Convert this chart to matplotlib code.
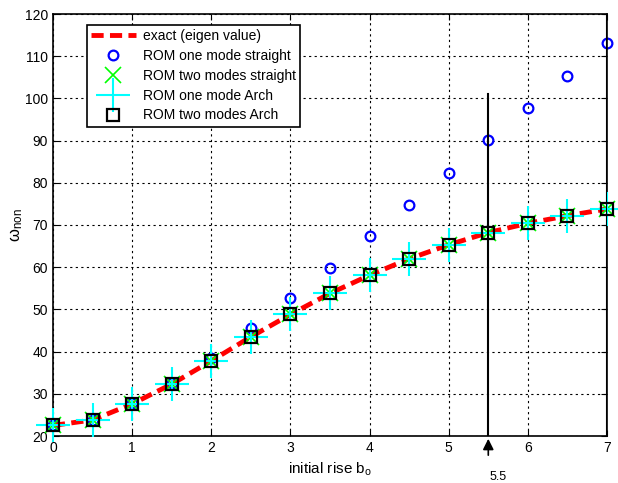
import numpy as np
import matplotlib.pyplot as plt

plt.rcParams['font.family'] = ['Liberation Sans', 'DejaVu Sans']

# datos
b0 = [0, 0.5, 1, 1.5, 2, 2.5, 3, 3.5, 4, 4.5, 5, 5.5, 6, 6.5, 7]
exacto = [22.5, 23.8, 27.6, 32.3, 37.8, 43.5, 48.8, 53.8, 58.1, 62.0, 65.3, 68.2, 70.4, 72.2, 73.8]
rom1_recta = [22.5, 23.9, 27.8, 32.6, 38.6, 45.5, 52.6, 59.7, 67.4, 74.8, 82.4, 90.1, 97.7, 105.4, 113.1]
rom2_recta = [22.5, 23.8, 27.6, 32.3, 37.8, 43.5, 48.8, 53.8, 58.1, 62.0, 65.3, 68.2, 70.4, 72.2, 73.8]
rom1_arco = [22.5, 23.8, 27.6, 32.3, 37.8, 43.5, 48.8, 53.8, 58.1, 62.0, 65.3, 68.2, 70.4, 72.2, 73.8]
rom2_arco = [22.5, 23.8, 27.6, 32.3, 37.8, 43.5, 48.8, 53.8, 58.1, 62.0, 65.3, 68.2, 70.4, 72.2, 73.8]
b_corte = 5.5
w_corte = 101

# %%
fig = plt.figure(figsize=(6.18, 4.83), dpi=100)
ax = fig.add_axes([53/618, 1-436/483, 554/618, 422/483])

ax.plot(b0, exacto, 'r--', linewidth=3.5, dashes=(2.5, 1.3), label='exact (eigen value)', zorder=3)
ax.plot(b0, rom1_recta, 'o', mfc='none', mec='b', mew=1.6, ms=7, linestyle='none',
        label='ROM one mode straight', zorder=2, clip_on=False)
ax.plot(b0, rom2_recta, 'x', color='#00ff00', mew=1.2, ms=11, linestyle='none',
        label='ROM two modes straight', zorder=4, clip_on=False)
ax.plot(b0, rom1_arco, '+', color='cyan', mew=1.5, ms=24, linestyle='none',
        label='ROM one mode Arch', zorder=5, clip_on=False)
ax.plot(b0, rom2_arco, 's', mfc='none', mec='k', mew=1.6, ms=9, linestyle='none',
        label='ROM two modes Arch', zorder=6, clip_on=False)

# lineas verticales
ax.plot([b_corte, b_corte], [20, w_corte], 'k-', linewidth=1.5, zorder=7)
ax.plot([b0[-1], b0[-1]], [20, 120], 'k-', linewidth=1.5, zorder=7)
ax.annotate('', xy=(b_corte, 20), xytext=(b_corte, 14.8),
            arrowprops=dict(arrowstyle='-|>', color='k', lw=1.2, mutation_scale=16),
            annotation_clip=False)
ax.text(b_corte + 0.12, 10.3, '5.5', ha='center', va='center', fontsize=9)

ax.set_xlim(0, 7)
ax.set_ylim(20, 120)
ax.set_xticks(range(0, 8))
ax.set_yticks(range(20, 121, 10))
ax.grid(True, linestyle=(0, (2, 3)), color='k', linewidth=0.8)
ax.tick_params(direction='in', top=True, right=True, labelsize=10, length=4)
for s in ax.spines.values():
    s.set_linewidth(1.2)
ax.set_xlabel('initial rise b$_\\mathregular{o}$', fontsize=11, labelpad=4)
ax.set_ylabel('$\\mathregular{\\omega_{non}}$', fontsize=12, labelpad=0)

leg = ax.legend(loc='upper left', bbox_to_anchor=(0.0614, 0.974), fontsize=10,
                fancybox=False, framealpha=1, edgecolor='k', handlelength=3.2,
                handletextpad=0.5, borderpad=0.3, labelspacing=0.42, borderaxespad=0)
leg.get_frame().set_linewidth(1.2)

plt.savefig('out.png', dpi=100)
